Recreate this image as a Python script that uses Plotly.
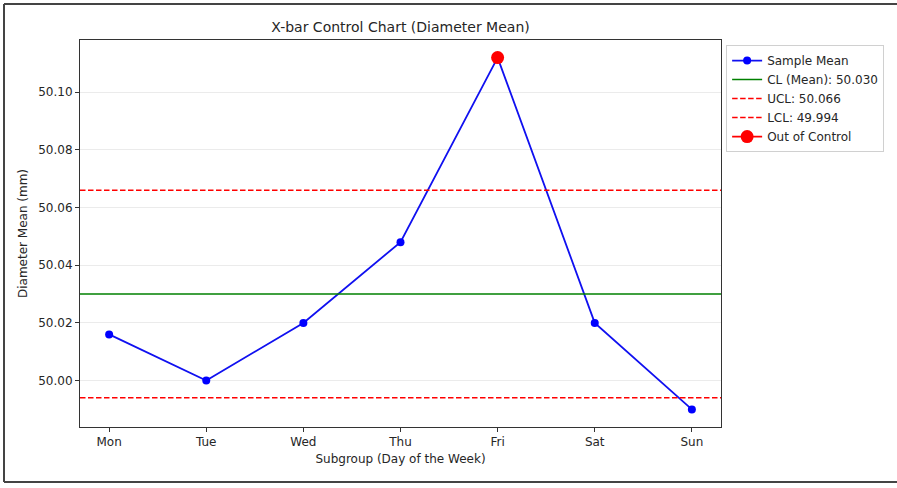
import plotly.graph_objects as go

days = ["Mon", "Tue", "Wed", "Thu", "Fri", "Sat", "Sun"]
means = [50.016, 50.000, 50.020, 50.048, 50.112, 50.020, 49.990]
cl = 50.030
ucl = 50.066
lcl = 49.994
ooc_days = ["Fri"]
ooc_vals = [50.112]
yticks = [50.00, 50.02, 50.04, 50.06, 50.08, 50.10]

FONT = "DejaVu Sans"
TXT = "#262626"
DASH = "5.5px,2.5px"

fig = go.Figure()
fig.add_trace(go.Scatter(x=days, y=means, mode="lines+markers", name="Sample Mean",
                         line=dict(color="#1010f0", width=1.8),
                         marker=dict(color="#0000ff", size=8)))
# legend-only entries for reference lines (the lines themselves are drawn as shapes)
fig.add_trace(go.Scatter(x=[days[0]], y=[None], mode="lines",
                         name=f"CL (Mean): {cl:.3f}",
                         line=dict(color="#008000", width=1.5)))
fig.add_trace(go.Scatter(x=[days[0]], y=[None], mode="lines",
                         name=f"UCL: {ucl:.3f}",
                         line=dict(color="#ff0000", width=1.5, dash=DASH)))
fig.add_trace(go.Scatter(x=[days[0]], y=[None], mode="lines",
                         name=f"LCL: {lcl:.3f}",
                         line=dict(color="#ff0000", width=1.5, dash=DASH)))
fig.add_trace(go.Scatter(x=ooc_days, y=ooc_vals, mode="lines+markers", name="Out of Control",
                         line=dict(color="#ff0000", width=1.8),
                         marker=dict(color="#ff0000", size=13)))

for y, col, dash in [(cl, "#008000", "solid"), (ucl, "#ff0000", DASH), (lcl, "#ff0000", DASH)]:
    fig.add_shape(type="line", xref="paper", yref="y", x0=0, x1=1, y0=y, y1=y,
                  line=dict(color=col, width=1.5, dash=dash), layer="above")

# outer frame (left, top, bottom)
pw, ph = 641, 387
L, T = 80, 40
def px(x): return (x - L) / pw
def py(y): return (T + ph - y) / ph
for x0, y0, x1, y1 in [(4, 4, 4, 482), (4, 4, 900, 4), (4, 482, 900, 482)]:
    fig.add_shape(type="line", xref="paper", yref="paper",
                  x0=px(x0), y0=py(y0), x1=px(x1), y1=py(y1),
                  line=dict(color="#444444", width=2))

fig.update_layout(
    width=897, height=488,
    margin=dict(l=80, r=176, t=40, b=61),
    paper_bgcolor="white", plot_bgcolor="white",
    font=dict(family=FONT, size=12, color=TXT),
    title=dict(text="X-bar Control Chart (Diameter Mean)", x=0.5, xref="paper",
               y=1 - 27 / 488, yref="container", yanchor="middle",
               font=dict(family=FONT, size=14, color=TXT)),
    showlegend=True,
    legend=dict(x=1.008, y=0.987, xanchor="left", yanchor="top",
                bordercolor="#d0d0d0", borderwidth=1, bgcolor="white",
                font=dict(family=FONT, size=12, color=TXT),
                tracegroupgap=0, itemwidth=30),
)
fig.update_xaxes(range=[-0.3, 6.3], type="category",
                 showline=True, linecolor="#333333", linewidth=1, mirror=True,
                 ticks="outside", ticklen=4, tickcolor="#333333",
                 showgrid=False, zeroline=False,
                 title=dict(text="Subgroup (Day of the Week)", standoff=6,
                            font=dict(family=FONT, size=12, color=TXT)))
fig.update_yaxes(range=[49.9839, 50.1181], tickvals=yticks, tickformat=".2f",
                 showline=True, linecolor="#333333", linewidth=1, mirror=True,
                 ticks="outside", ticklen=4, tickcolor="#333333",
                 showgrid=True, gridcolor="#ebebeb", gridwidth=1, zeroline=False,
                 title=dict(text="Diameter Mean (mm)", standoff=8,
                            font=dict(family=FONT, size=12, color=TXT)))

fig.write_html("out.html")
